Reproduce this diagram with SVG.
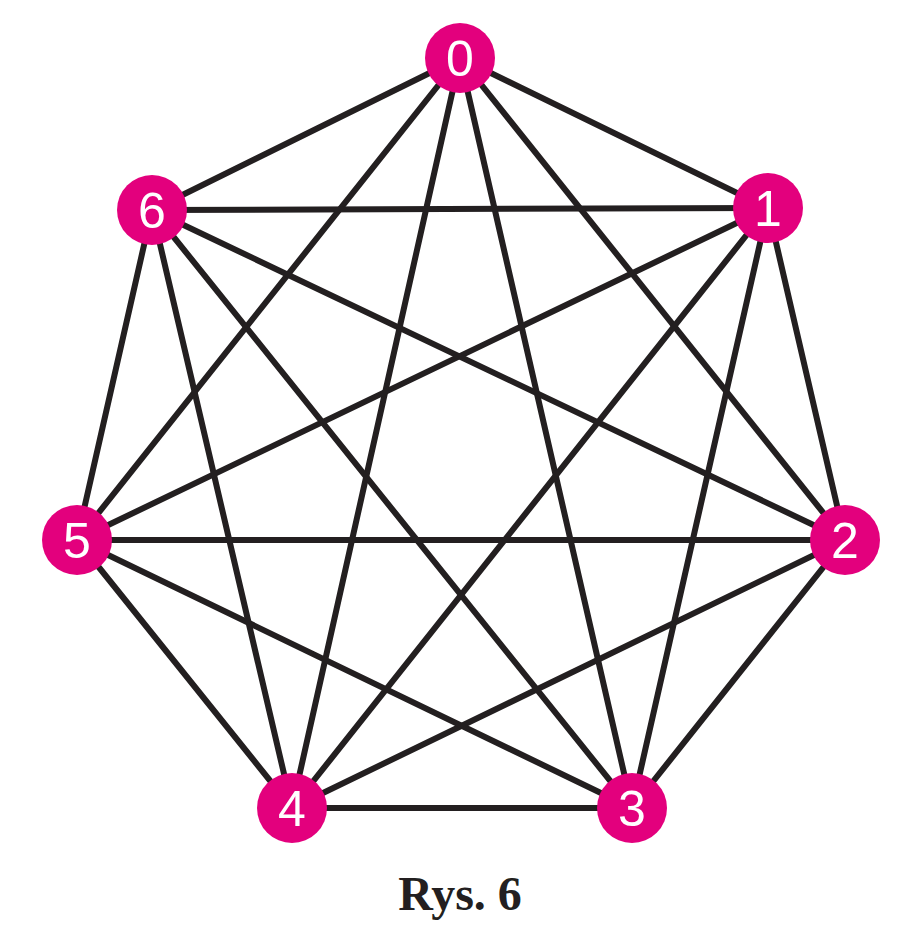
<svg xmlns="http://www.w3.org/2000/svg" width="900" height="947" viewBox="0 0 900 947">
<style>
.e{stroke:#231f20;stroke-width:6;fill:none}
.n circle{fill:#e3007d}
.n text{fill:#fff;font-family:"Liberation Sans",Arial,sans-serif;font-size:50px;text-anchor:middle}
</style>
<rect width="900" height="947" fill="#fff"/>
<g id="edges" class="e">
<path d="M460,58L768,208M460,58L845,540M460,58L632,808M460,58L292,808M460,58L77,540M460,58L152,210"/>
<path d="M768,208L845,540M768,208L632,808M768,208L292,808M768,208L77,540M768,208L152,210"/>
<path d="M845,540L632,808M845,540L292,808M845,540L77,540M845,540L152,210"/>
<path d="M632,808L292,808M632,808L77,540M632,808L152,210"/>
<path d="M292,808L77,540M292,808L152,210M77,540L152,210"/>
</g>
<g id="n0" class="n"><circle cx="460" cy="58" r="35"/><text x="460" y="76">0</text></g>
<g id="n1" class="n"><circle cx="768" cy="208" r="35"/><text x="768" y="226">1</text></g>
<g id="n2" class="n"><circle cx="845" cy="540" r="35"/><text x="845" y="558">2</text></g>
<g id="n3" class="n"><circle cx="632" cy="808" r="35"/><text x="632" y="826">3</text></g>
<g id="n4" class="n"><circle cx="292" cy="808" r="35"/><text x="292" y="826">4</text></g>
<g id="n5" class="n"><circle cx="77" cy="540" r="35"/><text x="77" y="558">5</text></g>
<g id="n6" class="n"><circle cx="152" cy="210" r="35"/><text x="152" y="228">6</text></g>
<text x="460" y="910" font-family="Liberation Serif,serif" font-weight="bold" font-size="48" text-anchor="middle" fill="#231f20">Rys. 6</text>
</svg>
